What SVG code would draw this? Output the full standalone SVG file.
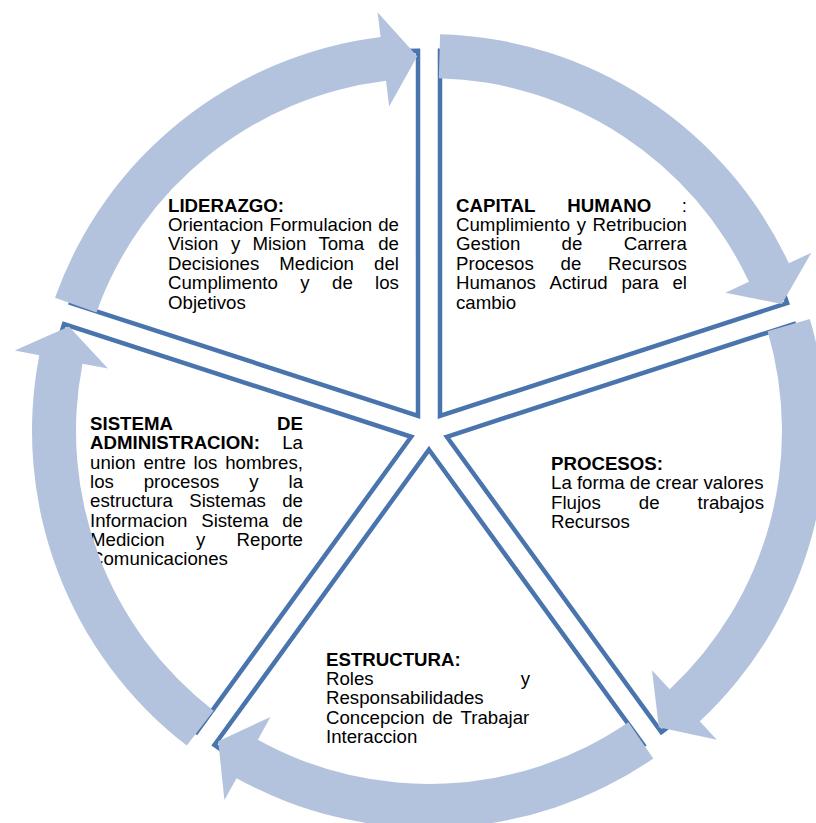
<svg xmlns="http://www.w3.org/2000/svg" xmlns:xlink="http://www.w3.org/1999/xlink" width="816" height="823" viewBox="0 0 816 823">
  <style>
    .seg { fill: #ffffff; stroke: #4a74ad; stroke-width: 4.5; stroke-linejoin: miter; }
    .arrow { fill: #b3c3de; stroke: none; }
    text { font-family: "Liberation Sans", Arial, sans-serif; font-size: 18.67px; fill: #000000; }
    .b { font-weight: bold; }
  </style>
  <defs>
    <!-- one 72-degree pie segment, pushed out from the hub along its bisector -->
    <path id="segShape" d="M15.13,10.99 L380.13,10.99 A365,365 0 0 1 127.92,358.13 Z"/>
    <!-- one curved block arrow around the hub -->
    <path id="arrowShape" d="M396.85,11.08 A397,397 0 0 1 167.78,359.80 L178.35,382.46 L127.03,352.83 L138.20,296.36 L149.18,319.93 A353,353 0 0 0 352.86,9.86 Z"/>
  </defs>

  <rect x="0" y="0" width="816" height="823" fill="#ffffff"/>

  <g id="liderazgo">
    <use xlink:href="#segShape" class="seg" transform="translate(429,431) rotate(198)"/>
    <text><tspan x="168" y="211.5" class="b">LIDERAZGO:</tspan></text>
    <text y="230.9"><tspan x="168">Orientacion</tspan><tspan x="269.5">Formulacion</tspan><tspan x="378.2">de</tspan></text>
    <text y="250.3"><tspan x="168">Vision</tspan><tspan x="230.9">y</tspan><tspan x="252.4">Mision</tspan><tspan x="318.4">Toma</tspan><tspan x="378.2">de</tspan></text>
    <text y="269.7"><tspan x="168">Decisiones</tspan><tspan x="279.3">Medicion</tspan><tspan x="374.1">del</tspan></text>
    <text y="289.1"><tspan x="168">Cumplimento</tspan><tspan x="300.3">y</tspan><tspan x="332.0">de</tspan><tspan x="375.1">los</tspan></text>
    <text x="168" y="308.5">Objetivos</text>
  </g>

  <g id="capital-humano">
    <use xlink:href="#segShape" class="seg" transform="translate(429,431) rotate(270)"/>
    <text y="211.5"><tspan x="456" class="b">CAPITAL</tspan><tspan x="567.3" class="b">HUMANO</tspan><tspan x="681.8">:</tspan></text>
    <text y="230.9"><tspan x="456">Cumplimiento</tspan><tspan x="576.7">y</tspan><tspan x="592.6">Retribucion</tspan></text>
    <text y="250.3"><tspan x="456">Gestion</tspan><tspan x="561.6">de</tspan><tspan x="623.7">Carrera</tspan></text>
    <text y="269.7"><tspan x="456">Procesos</tspan><tspan x="560.6">de</tspan><tspan x="608.1">Recursos</tspan></text>
    <text y="289.1"><tspan x="456">Humanos</tspan><tspan x="549.6">Actirud</tspan><tspan x="621.4">para</tspan><tspan x="672.4">el</tspan></text>
    <text x="456" y="308.5">cambio</text>
  </g>

  <g id="procesos">
    <use xlink:href="#segShape" class="seg" transform="translate(429,431) rotate(342)"/>
    <text x="551" y="470" class="b">PROCESOS:</text>
    <text x="551" y="489.3">La forma de crear valores</text>
    <text y="508.6"><tspan x="551">Flujos</tspan><tspan x="638.8">de</tspan><tspan x="697.6">trabajos</tspan></text>
    <text x="551" y="527.9">Recursos</text>
  </g>

  <g id="estructura">
    <use xlink:href="#segShape" class="seg" transform="translate(429,431) rotate(54)"/>
    <text x="326" y="665.7" class="b">ESTRUCTURA:</text>
    <text y="685"><tspan x="326">Roles</tspan><tspan x="520.7">y</tspan></text>
    <text x="326" y="704.3">Responsabilidades</text>
    <text y="723.6"><tspan x="326">Concepcion</tspan><tspan x="432.2">de</tspan><tspan x="460.5">Trabajar</tspan></text>
    <text x="326" y="742.9">Interaccion</text>
  </g>

  <g id="sistema-administracion">
    <use xlink:href="#segShape" class="seg" transform="translate(429,431) rotate(126)"/>
    <text y="430"><tspan x="90" class="b">SISTEMA</tspan><tspan x="277.1" class="b">DE</tspan></text>
    <text y="449.3"><tspan x="90" class="b">ADMINISTRACION:</tspan><tspan x="282.2">La</tspan></text>
    <text y="468.6"><tspan x="90">union</tspan><tspan x="143.4">entre</tspan><tspan x="193.6">los</tspan><tspan x="225.2">hombres,</tspan></text>
    <text y="487.9"><tspan x="90">los</tspan><tspan x="143.7">procesos</tspan><tspan x="249.3">y</tspan><tspan x="288.5">la</tspan></text>
    <text y="507.2"><tspan x="90">estructura</tspan><tspan x="189.2">Sistemas</tspan><tspan x="282.2">de</tspan></text>
    <text y="526.5"><tspan x="90">Informacion</tspan><tspan x="201.2">Sistema</tspan><tspan x="282.2">de</tspan></text>
    <text y="545.8"><tspan x="90">Medicion</tspan><tspan x="196.0">y</tspan><tspan x="236.6">Reporte</tspan></text>
    <text x="90" y="565.1">Comunicaciones</text>
  </g>

  <!-- cycle arrows, drawn over the segments -->
  <g id="connectors">
    <use xlink:href="#arrowShape" class="arrow" transform="translate(429,431) rotate(198)"/>
    <use xlink:href="#arrowShape" class="arrow" transform="translate(429,431) rotate(270)"/>
    <use xlink:href="#arrowShape" class="arrow" transform="translate(429,431) rotate(342)"/>
    <use xlink:href="#arrowShape" class="arrow" transform="translate(429,431) rotate(54)"/>
    <use xlink:href="#arrowShape" class="arrow" transform="translate(429,431) rotate(126)"/>
  </g>
</svg>
